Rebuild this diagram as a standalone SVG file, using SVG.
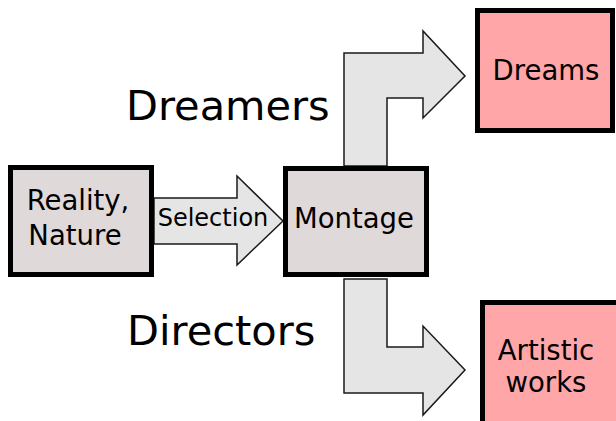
<svg xmlns="http://www.w3.org/2000/svg" width="616" height="421" viewBox="0 0 616 421">
<style>
.arrow{fill:#e5e5e5;stroke:#1a1a1a;stroke-width:1.5;stroke-linejoin:miter}
.grey{fill:#e0d9da;stroke:#000;stroke-width:5}
.pink{fill:#ffa6a9;stroke:#000;stroke-width:5}
text{font-family:"DejaVu Sans",Verdana,sans-serif;fill:#000;text-anchor:middle}
.lbl{font-size:27.5px}
.big{font-size:41.5px;text-anchor:start}
</style>
<rect width="616" height="421" fill="#fff"/>
<g id="connectors">
<polygon class="arrow" points="154,198 237,198 237,176 283,221 237,265 237,244 154,244"/>
<polygon class="arrow" points="344,166 344,53 423,53 423,31 465,76 423,118 423,98 387,98 387,166"/>
<polygon class="arrow" points="344,279 387,279 387,347 423,347 423,326 465,370 423,415 423,393 344,393"/>
<text x="213" y="226" style="font-size:24px">Selection</text>
</g>
<g id="reality">
<rect class="grey" x="10.5" y="167.5" width="141" height="107"/>
<text class="lbl" x="78" y="210">Reality,</text>
<text class="lbl" x="75" y="245">Nature</text>
</g>
<g id="montage">
<rect class="grey" x="285.5" y="168.5" width="141" height="106"/>
<text class="lbl" x="354" y="228">Montage</text>
</g>
<g id="dreams">
<rect class="pink" x="477.5" y="10.5" width="135" height="120"/>
<text class="lbl" x="546" y="80">Dreams</text>
</g>
<g id="artistic">
<rect class="pink" x="482.5" y="302.5" width="140" height="130"/>
<text class="lbl" x="546" y="360">Artistic</text>
<text class="lbl" x="546" y="392">works</text>
</g>
<text class="big" x="126" y="120">Dreamers</text>
<text class="big" x="127" y="345">Directors</text>
</svg>
